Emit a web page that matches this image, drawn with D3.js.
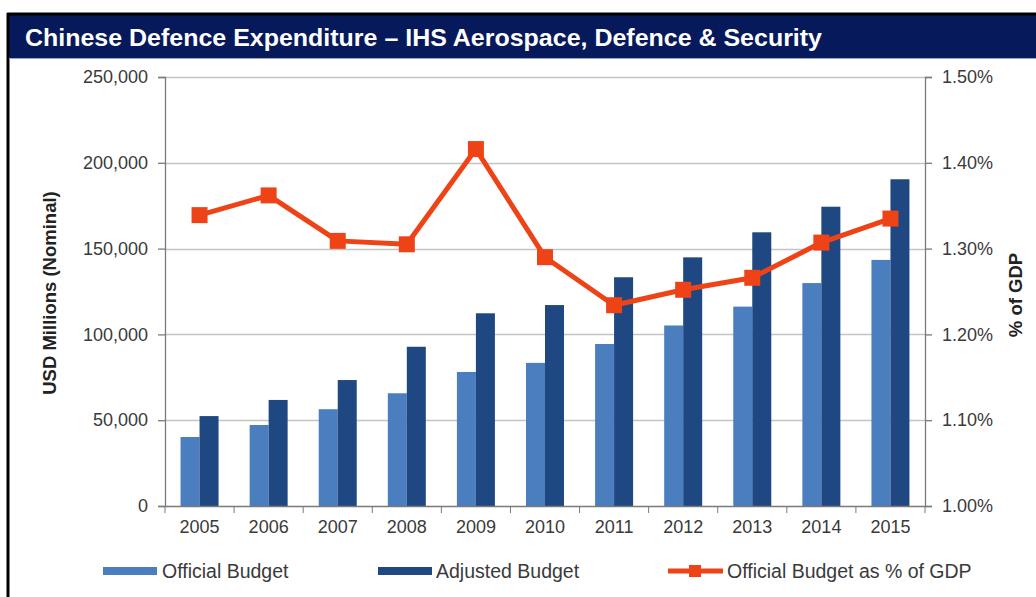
<!DOCTYPE html>
<html>
<head>
<meta charset="utf-8">
<script src="https://cdn.jsdelivr.net/npm/d3@7"></script>
<style>
	body { margin: 0; background: #fff; }
	text { font-family: "Liberation Sans", Arial, sans-serif; }
</style>
</head>
<body>
<svg id="chart"></svg>
<script>
var years = ['2005', '2006', '2007', '2008', '2009', '2010', '2011', '2012', '2013', '2014', '2015']
var officialBudget = [40200, 47200, 56400, 65700, 78100, 83400, 94400, 105200, 116200, 129900, 143400]
var adjustedBudget = [52400, 61800, 73400, 92800, 112300, 117100, 133300, 144900, 159500, 174400, 190400]
var pctGdp = [1.339, 1.362, 1.309, 1.305, 1.416, 1.290, 1.234, 1.252, 1.266, 1.307, 1.335]
var leftTicks = [0, 50000, 100000, 150000, 200000, 250000]
var rightTicks = [1.0, 1.1, 1.2, 1.3, 1.4, 1.5]

buildChart()

function buildChart() {
	var dim = {
		width: 1036,
		height: 597,
		plot: { left: 165, right: 925, top: 77, bottom: 506 }
	}
	var lightBlue = '#4a7ebf'
	var darkBlue = '#1f4781'
	var orange = '#ee4316'
	var textCol = '#3a3a3a'

	var svg = d3.select('#chart')
		.attr('width', dim.width)
		.attr('height', dim.height)

	// frame + title bar
	svg.append('rect')
		.attr('x', 8).attr('y', 14)
		.attr('width', dim.width).attr('height', 44)
		.attr('fill', '#06195b')
	svg.append('line')
		.attr('x1', 7).attr('x2', dim.width).attr('y1', 14).attr('y2', 14)
		.attr('stroke', '#000').attr('stroke-width', 3)
	svg.append('line')
		.attr('x1', 8).attr('x2', 8).attr('y1', 13).attr('y2', dim.height)
		.attr('stroke', '#000').attr('stroke-width', 3)
	svg.append('line')
		.attr('x1', 9).attr('x2', dim.width).attr('y1', 58.5).attr('y2', 58.5)
		.attr('stroke', '#9aa6c0').attr('stroke-width', 1)
	svg.append('text')
		.attr('x', 25).attr('y', 46)
		.attr('fill', '#fff')
		.attr('font-size', 24)
		.attr('font-weight', 'bold')
		.attr('textLength', 797)
		.attr('lengthAdjust', 'spacingAndGlyphs')
		.text('Chinese Defence Expenditure \u2013 IHS  Aerospace, Defence & Security')

	var x = d3.scaleBand()
		.domain(years)
		.range([dim.plot.left, dim.plot.right])
		.paddingInner(0.45)
		.paddingOuter(0.225)
	var xs = d3.scaleBand()
		.domain(['official', 'adjusted'])
		.range([0, x.bandwidth()])

	var y = d3.scaleLinear()
		.domain([0, 250000])
		.range([dim.plot.bottom, dim.plot.top])
	var y2 = d3.scaleLinear()
		.domain([1.0, 1.5])
		.range([dim.plot.bottom, dim.plot.top])

	// gridlines
	svg.append('g')
		.selectAll('line')
		.data(leftTicks.filter(d => d > 0))
		.enter()
		.append('line')
			.attr('x1', dim.plot.left)
			.attr('x2', dim.plot.right)
			.attr('y1', d => Math.round(y(d)) + 0.5)
			.attr('y2', d => Math.round(y(d)) + 0.5)
			.attr('stroke', '#c4c4c4')
			.attr('stroke-width', 1.3)

	// bars
	var groups = svg.append('g')
		.selectAll('g')
		.data(years)
		.enter()
		.append('g')
			.attr('transform', d => 'translate(' + x(d) + ',0)')
	groups.append('rect')
		.attr('x', xs('official'))
		.attr('y', (d, i) => y(officialBudget[i]))
		.attr('width', xs.bandwidth())
		.attr('height', (d, i) => y(0) - y(officialBudget[i]))
		.attr('fill', lightBlue)
	groups.append('rect')
		.attr('x', xs('adjusted'))
		.attr('y', (d, i) => y(adjustedBudget[i]))
		.attr('width', xs.bandwidth())
		.attr('height', (d, i) => y(0) - y(adjustedBudget[i]))
		.attr('fill', darkBlue)

	// axes
	var axisCol = '#7a7a7a'
	var left = svg.append('g')
		.attr('transform', 'translate(' + dim.plot.left + ',0)')
		.call(d3.axisLeft(y).tickValues(leftTicks).tickFormat(d3.format(',')).tickSizeOuter(0).tickSize(7).tickPadding(10))
	var right = svg.append('g')
		.attr('transform', 'translate(' + dim.plot.right + ',0)')
		.call(d3.axisRight(y2).tickValues(rightTicks).tickFormat(d => d.toFixed(2) + '%').tickSizeOuter(0).tickSize(7).tickPadding(10))
	var bottom = svg.append('g')
		.attr('transform', 'translate(0,' + dim.plot.bottom + ')')
		.call(d3.axisBottom(x).tickSize(0).tickPadding(14))
	// category separators on the x axis
	var bounds = years.map(d => x(d) - x.step() * x.paddingInner() / 2).concat([dim.plot.right])
	bottom.selectAll('.sep')
		.data(bounds)
		.enter()
		.append('line')
			.attr('x1', d => d).attr('x2', d => d)
			.attr('y1', 0).attr('y2', 7)
			.attr('stroke', axisCol)
	;[left, right, bottom].forEach(g => {
		g.selectAll('.domain, .tick line').attr('stroke', axisCol).attr('stroke-width', 1.3)
		g.selectAll('text')
			.attr('font-family', '"Liberation Sans", Arial, sans-serif')
			.attr('font-size', 18)
			.attr('fill', textCol)
	})

	// % of GDP line
	var line = d3.line()
		.x((d, i) => x(years[i]) + x.bandwidth() / 2)
		.y(d => y2(d))
	svg.append('path')
		.datum(pctGdp)
		.attr('d', line)
		.attr('fill', 'none')
		.attr('stroke', orange)
		.attr('stroke-width', 5)
		.attr('stroke-linejoin', 'round')
	svg.append('g')
		.selectAll('rect')
		.data(pctGdp)
		.enter()
		.append('rect')
			.attr('x', (d, i) => x(years[i]) + x.bandwidth() / 2 - 8)
			.attr('y', d => y2(d) - 8)
			.attr('width', 16)
			.attr('height', 16)
			.attr('fill', orange)

	// axis titles
	svg.append('text')
		.attr('transform', 'translate(56,' + 293 + ') rotate(-90)')
		.attr('text-anchor', 'middle')
		.attr('font-size', 18.5)
		.attr('font-weight', 'bold')
		.attr('fill', '#222')
		.text('USD Millions (Nominal)')
	svg.append('text')
		.attr('transform', 'translate(1022,' + 295 + ') rotate(-90)')
		.attr('text-anchor', 'middle')
		.attr('font-size', 18.5)
		.attr('font-weight', 'bold')
		.attr('fill', '#222')
		.text('% of GDP')

	// legend
	var ly = 571
	var legend = svg.append('g')
	legend.append('rect').attr('x', 103).attr('y', ly - 4).attr('width', 54).attr('height', 8).attr('fill', lightBlue)
	legend.append('text').attr('x', 162).attr('y', ly + 7).attr('font-size', 19.5).attr('fill', textCol).text('Official Budget')
	legend.append('rect').attr('x', 378).attr('y', ly - 4).attr('width', 54).attr('height', 8).attr('fill', darkBlue)
	legend.append('text').attr('x', 436).attr('y', ly + 7).attr('font-size', 19.5).attr('fill', textCol).text('Adjusted Budget')
	legend.append('line').attr('x1', 668).attr('x2', 723).attr('y1', ly).attr('y2', ly).attr('stroke', orange).attr('stroke-width', 5)
	legend.append('rect').attr('x', 689).attr('y', ly - 6).attr('width', 12).attr('height', 12).attr('fill', orange)
	legend.append('text').attr('x', 727).attr('y', ly + 7).attr('font-size', 19.5).attr('fill', textCol).text('Official Budget as % of GDP')
}
</script>
</body>
</html>
